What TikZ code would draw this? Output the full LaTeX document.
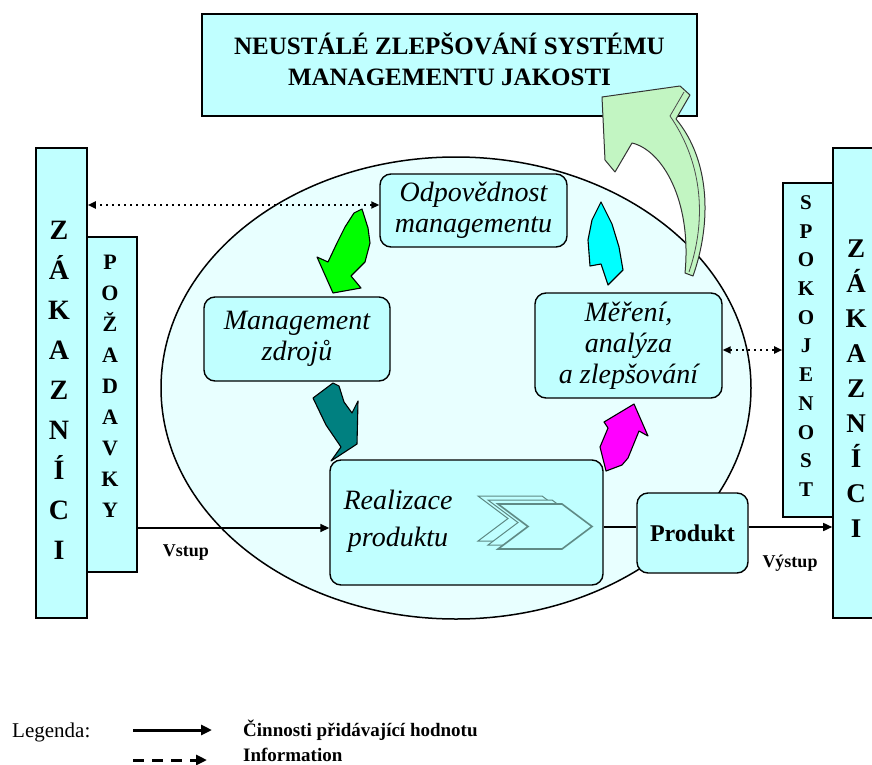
\documentclass[tikz,border=0pt]{standalone}
\usepackage{fontspec}
\setmainfont{Liberation Serif}
\usetikzlibrary{arrows.meta,calc}
\definecolor{boxc}{HTML}{C0FFFF}
\definecolor{ellc}{HTML}{E8FFFF}
\definecolor{grn}{HTML}{00FF00}
\definecolor{tealc}{HTML}{008080}
\definecolor{mag}{HTML}{FF00FF}
\definecolor{cyn}{HTML}{00FFFF}
\definecolor{lgrn}{HTML}{C2F5C2}
\definecolor{chev}{HTML}{5F8A85}
\begin{document}
\begin{tikzpicture}[x=1pt,y=-1pt,
  procbox/.style={draw=black, line width=1.4pt, rounded corners=11pt, fill=boxc, inner sep=0pt, align=center, font=\fontsize{28}{31}\selectfont\itshape},
  bar/.style={draw=black, line width=1.6pt, fill=boxc, inner sep=0pt},
  vtxt/.style={align=center, inner sep=0pt},
  flow/.style={line width=1.6pt, -{Triangle[length=9pt,width=8pt]}},
  info/.style={line width=1.8pt, dash pattern=on 1.8pt off 4.2pt, {Triangle[length=8pt,width=7pt]}-{Triangle[length=8pt,width=7pt]}},
  blockarrow/.style={draw=black, line width=1.1pt, line join=round},
  lbl/.style={inner sep=0pt, font=\fontsize{19}{22}\selectfont\bfseries}
]
\useasboundingbox (0,0) rectangle (872,765);
\clip (0,0) rectangle (872,765);

% ellipse
\draw[line width=1.5pt, fill=ellc] (456,388) ellipse [x radius=295pt, y radius=231pt];

% top box
\node[bar, minimum width=495pt, minimum height=102pt] (topbox) at (449.5,65) {};
\node[inner sep=0pt, align=center, font=\fontsize{25}{31}\selectfont\bfseries] (toptxt) at (449.5,59)
      {NEUSTÁLÉ ZLEPŠOVÁNÍ SYSTÉMU\\MANAGEMENTU JAKOSTI};

% side bars
\node[bar, minimum width=51pt, minimum height=470pt] (zak1) at (61.5,383) {};
\node[bar, minimum width=50pt, minimum height=335pt] (poz) at (112,404.5) {};
\node[bar, minimum width=52pt, minimum height=470pt] (zak2) at (859,383) {};
\node[bar, minimum width=50pt, minimum height=334pt] (spok) at (808,350) {};

\node[vtxt, font=\fontsize{28}{40}\selectfont\bfseries] (zak1t) at (59,390)
  {Z\\Á\\K\\A\\Z\\N\\Í\\C\\I};
\node[vtxt, font=\fontsize{22}{31}\selectfont\bfseries] (pozt) at (110,386)
  {P\\O\\Ž\\A\\D\\A\\V\\K\\Y};
\node[vtxt, font=\fontsize{21}{28.7}\selectfont\bfseries] (spokt) at (806,346)
  {S\\P\\O\\K\\O\\J\\E\\N\\O\\S\\T};
\node[vtxt, font=\fontsize{27}{35}\selectfont\bfseries] (zak2t) at (856,389)
  {Z\\Á\\K\\A\\Z\\N\\Í\\C\\I};

% process boxes
\node[procbox, minimum width=187pt, minimum height=73pt] (odp) at (473.5,210.5)
  {Odpovědnost\\managementu};
\node[procbox, minimum width=186pt, minimum height=84pt] (mz) at (297,339)
  {Management\\zdrojů};
\node[procbox, minimum width=187pt, minimum height=105pt] (mer) at (628.5,345.5)
  {Měření,\\analýza\\a zlepšování};
\node[procbox, minimum width=273pt, minimum height=125pt] (real) at (466.5,522.5) {};
\node[inner sep=0pt, align=center, font=\fontsize{28}{37}\selectfont\itshape] (realt) at (398,521)
  {Realizace\\produktu};
\node[draw=black, line width=1.4pt, rounded corners=11pt, fill=boxc, inner sep=0pt,
      minimum width=111pt, minimum height=80pt, font=\fontsize{24}{28}\selectfont\bfseries]
      (prod) at (692.5,533) {Produkt};

% chevrons in Realizace
\foreach \dx/\dy/\lw in {0/0/1,10/4/1,20/8/1.6}{
  \draw[chev, line width=\lw pt, fill=boxc] (478+\dx,496+\dy) -- ++(64,0) -- ++(30,22.5)
     -- ++(-30,22.5) -- ++(-64,0) -- ++(30,-22.5) -- cycle;
}

% curved block arrows
\draw[blockarrow, fill=grn] (354,213) -- (362,209) -- (368,228) -- (370,243) -- (365,262)
  -- (351,276) -- (361,288) -- (333,293) -- (317,257) -- (328,262) -- (337,243) -- (345,227) -- cycle;
\draw[blockarrow, fill=tealc] (313,398) -- (333,383) -- (339,386) -- (344,402) -- (352,413)
  -- (358,401) -- (357,444) -- (331,461) -- (341,447) -- (326,425) -- cycle;
\draw[blockarrow, fill=mag] (606,471) -- (600,447) -- (608,428) -- (604,422) -- (634,404)
  -- (648,436) -- (639,431) -- (628,458) -- (622,465) -- cycle;
\draw[blockarrow, fill=cyn] (601,202) -- (612,224) -- (619,247) -- (623,270) -- (608,285)
  -- (601,264) -- (590,266) -- (588,240) -- (592,220) -- cycle;
\draw[draw=black!80, line width=1pt, line join=round, fill=lgrn] (685,273) -- (693,276)
  .. controls (712,222) and (710,160) .. (676,119)
  -- (690,95) -- (680,86) -- (602,97) -- (605,160) -- (615,172) -- (632,143)
  .. controls (662,150) and (692,200) .. (685,273) -- cycle;
\draw[draw=black!70, line width=0.8pt] (689,272) .. controls (706,222) and (704,165) .. (670,116) -- (684,92);

% information arrows
\coordinate (i1) at ([yshift=5.5pt]odp.west);
\draw[info] (i1) -- (i1 -| zak1.east);
\coordinate (i2) at ([yshift=-4.5pt]mer.east);
\draw[info] (i2) -- (i2 -| spok.west);

% flow
\coordinate (vin) at ([yshift=-5.5pt]real.west);
\draw[flow] (vin -| poz.east) -- (vin);
\coordinate (vo) at ([yshift=-4.5pt]real.east);
\draw[line width=1.6pt] (vo) -- (vo -| prod.west);
\coordinate (po) at ([yshift=6pt]prod.east);
\draw[flow] (po) -- (po -| zak2.west);

\node[lbl, font=\fontsize{18}{22}\selectfont\bfseries] (vstup) at (186,553) {Vstup};
\node[lbl, font=\fontsize{18}{22}\selectfont\bfseries] (vystup) at (790,563) {Výstup};

% legend
\node[inner sep=0pt, anchor=west, font=\fontsize{21}{24}\selectfont] (leg) at (12,732) {Legenda:};
\coordinate (l1a) at (133,730);
\coordinate (l1b) at (212,730);
\draw[line width=3pt, -{Triangle[length=11pt,width=10pt]}] (l1a) -- (l1b);
\coordinate (l2a) at (133,760);
\coordinate (l2b) at (207,760);
\draw[line width=3pt, dash pattern=on 11pt off 8pt, -{Triangle[length=11pt,width=10pt]}] (l2a) -- (l2b);
\node[lbl, anchor=west] (leg1) at (243,730) {Činnosti přidávající hodnotu};
\node[lbl, anchor=west] (leg2) at (243,755) {Information};
\end{tikzpicture}
\end{document}
